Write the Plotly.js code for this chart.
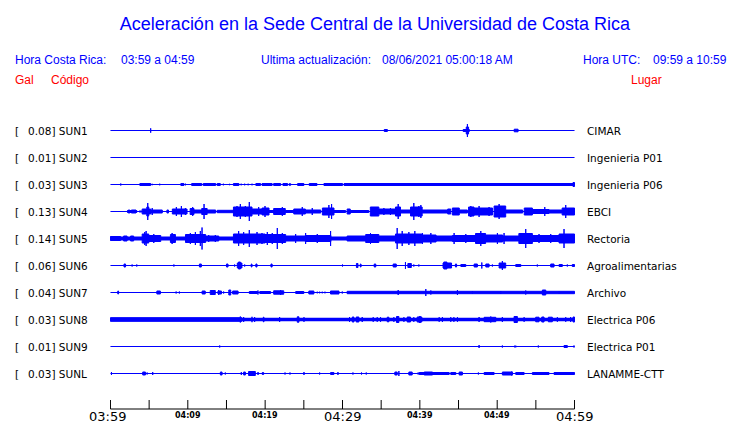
<!DOCTYPE html>
<html><head><meta charset="utf-8">
<script src="https://cdn.plot.ly/plotly-3.0.1.min.js"></script>
<style>html,body{margin:0;padding:0;background:#fff}#chart{width:740px;height:423px}</style>
</head><body><div id="chart"></div>
<script>
// ---------------- DATA ----------------
const durationMin = 60;
const codes  = ['SUN1','SUN2','SUN3','SUN4','SUN5','SUN6','SUN7','SUN8','SUN9','SUNL'];
const peaks  = ['0.08','0.01','0.03','0.13','0.14','0.06','0.04','0.03','0.01','0.03'];
const places = ['CIMAR','Ingenieria P01','Ingenieria P06','EBCI','Rectoria','Agroalimentarias','Archivo','Electrica P06','Electrica P01','LANAMME-CTT'];
// background (noise) half-amplitude of each record, relative units
const baseAmp = [0.5,0.5,0.5,0.5,2,0.5,0.5,1.8,0.5,0.5];
// envelope events: [start minute, end minute, half-amplitude]
const ev_SUN1 = [[5.2,5.2,2.7],[13.5,13.5,1],[35.4,35.8,1.5],[37.2,37.2,1],[39.3,39.3,1],[45.6,46.4,1.5],[46.0,46.3,4],[46.15,46.15,7],[51.45,51.45,1],[52.2,52.7,1.8],[56.4,56.4,1]];
const ev_SUN2 = [];
const ev_SUN3 = [[1.33,1.33,1.5],[3.14,3.14,1],[3.8,5.2,1.5],[5.4,5.4,1.2],[6.37,6.37,1.3],[9.1,9.5,1.5],[9.7,9.7,1.3],[10.5,11.8,1.5],[12.0,13.6,1.5],[13.8,14.2,1.5],[14.6,14.6,1.3],[15.4,15.4,1.2],[15.9,16.6,1.5],[16.9,16.9,1.3],[17.35,17.35,1.3],[17.8,17.8,1.3],[18.3,18.3,1.3],[18.8,19.4,1.5],[19.6,20.9,1.5],[21.1,22.0,1.5],[22.3,22.9,1.5],[23.1,23.3,1.3],[24.2,25.0,1.5],[25.7,26.7,1.5],[27.6,30.0,1.5],[30.2,60,1.5],[59.8,60,2.5]];
const ev_SUN4 = [[2.2,3.4,1.5],[2.3,2.5,2],[2.7,3.3,2],[3.7,4.1,1],[4.1,5.2,3],[4.7,4.95,5],[4.82,4.82,9],[5.2,6.7,2],[5.4,5.4,4],[7.3,7.5,2],[8.0,9.9,3],[8.52,8.52,5],[9.17,9.17,6],[9.69,9.69,4],[10.3,10.8,3.5],[10.63,10.63,5],[10.8,11.8,2],[11.8,12.5,3.5],[12.1,12.1,8],[12.5,13.6,2],[13.8,15.9,1.7],[15.9,18.3,5],[16.36,16.36,6],[16.79,16.79,8],[17.44,17.44,6],[17.95,17.95,10],[18.3,20.0,3],[19.16,19.16,5],[19.6,20.5,4],[19.98,19.98,6],[20.5,21.1,1.5],[21.1,22.6,3.5],[22.22,22.22,5],[22.6,23.7,1.5],[23.7,25.2,3],[24.8,24.8,5],[25.2,27.2,2],[26.09,26.09,4],[27.4,28.9,4],[28.24,28.24,7],[28.59,28.59,8],[28.9,30.4,1.5],[30.6,31.0,3],[31.0,33.4,1.5],[33.6,34.7,5],[34.7,36.85,3],[35.35,35.35,4],[36.2,36.2,4],[36.85,37.5,5],[37.2,37.2,8],[37.5,38.8,2],[38.8,40.3,5],[39.22,39.22,9],[39.87,39.87,6],[40.13,40.13,7],[40.3,43.6,2],[43.6,44.0,3],[44.2,45.1,4],[45.1,46.15,2],[46.3,47.0,5],[46.59,46.59,6],[47.0,49.4,4],[47.66,47.66,6],[48.95,48.95,5],[49.6,51.1,6],[50.25,50.25,8],[51.1,53.3,2],[53.5,54.55,4],[54.55,56.7,2.5],[56.15,56.15,5],[56.7,58.4,2],[58.4,59.1,4],[58.86,58.86,7],[59.1,60,4]];
const ev_SUN5 = [[0,1.3,2.5],[1.7,2.15,3],[2.6,3.0,3],[4.1,4.95,5],[4.43,4.43,7],[4.61,4.61,8],[4.95,6.5,3.5],[5.6,5.6,5],[6.24,6.24,4],[7.75,8.4,4.5],[7.97,7.97,6],[9.7,12.3,4.5],[10.33,10.33,6],[10.98,10.98,7],[11.62,11.62,8],[11.84,11.84,11.5],[12.3,14.0,3],[12.7,12.7,4],[13.56,13.56,4],[15.9,20.0,5],[16.57,16.57,8],[17.22,17.22,7],[17.95,17.95,9],[18.95,18.95,7],[19.59,19.59,6],[19.6,22.65,4.5],[20.28,20.28,7],[20.92,20.92,6],[21.57,21.57,11],[22.22,22.22,6],[22.65,25.2,3],[23.94,23.94,5],[25.23,25.23,6],[25.2,28.5,3.5],[26.74,26.74,5],[27.38,27.38,4],[28.46,28.46,8],[30.6,33.0,3],[33.0,34.7,4.5],[33.62,33.62,6],[34.7,36.85,3],[36.85,40.3,5],[37.07,37.07,11],[37.72,37.72,8],[38.58,38.58,7],[39.35,39.35,8],[39.9,42.1,4],[40.34,40.34,6],[41.42,41.42,6],[42.1,44.2,3],[44.43,44.43,6],[44.2,47.2,3.5],[45.94,45.94,5],[47.2,48.5,5.5],[47.88,47.88,8],[48.5,50.7,4],[50.03,50.03,6],[50.89,50.89,6],[50.7,52.8,3],[52.8,54.55,5.5],[53.69,53.69,10],[54.55,58.0,3.5],[55.41,55.41,5],[56.92,56.92,5],[58.0,60,5],[58.64,58.64,10]];
const ev_SUN6 = [[1.75,1.95,2],[2.8,2.8,1.5],[3.4,3.4,1.5],[4.8,4.8,1],[8.2,8.2,1.5],[11.5,11.75,2],[15.0,15.2,2],[16.05,16.05,1.5],[16.4,17.0,3],[16.55,16.8,4],[17.35,17.35,1.5],[18.2,18.3,2],[18.8,18.95,2],[20.75,20.9,2],[22.3,22.3,1],[30.0,30.0,1.5],[31.8,32.0,2.5],[32.3,32.4,2],[34.1,34.3,2],[36.55,36.95,2],[38.14,38.14,4],[38.45,38.9,2.5],[39.22,39.22,1.5],[39.87,39.87,1.5],[43.0,44.1,3],[43.1,43.5,4],[44.6,44.75,2],[45.3,45.94,1.5],[46.37,46.37,1],[47.02,47.44,2],[48.01,48.01,3.5],[48.53,48.95,2],[49.38,49.38,1.5],[50.25,51.1,3],[50.67,50.67,5],[52.4,53.05,1.5],[55.19,55.19,1.5],[56.92,57.35,2],[58.0,58.42,1.5],[59.07,59.07,1.5],[59.71,60,1.5]];
const ev_SUN7 = [[0.95,1.05,2],[2.03,2.03,1],[3.66,3.66,1],[5.59,5.59,1],[6.0,6.45,2],[6.67,6.67,1],[7.45,7.45,1],[8.49,8.49,1.5],[8.91,8.91,1.5],[9.34,9.34,1],[11.85,12.25,2],[12.9,13.55,2.5],[13.9,14.35,2],[13.99,13.99,3],[14.63,14.63,1.5],[15.3,15.55,3],[15.8,16.5,2],[17.95,18.3,1.5],[18.3,19.0,1.5],[19.07,19.07,2.5],[19.3,20.0,1.5],[19.59,19.59,2],[19.6,20.7,1.5],[21.1,22.4,2.2],[22.0,22.0,3],[22.73,22.73,1],[23.72,23.72,1],[23.95,25.0,1.5],[25.65,26.3,2],[26.74,26.74,1.3],[27.04,27.04,1.3],[27.38,27.38,1.3],[27.73,27.73,1.3],[28.45,29.55,2],[29.97,29.97,1.5],[30.6,60,1.7],[37.2,37.2,3],[40.77,40.77,4],[41.42,41.42,2.5],[44.86,44.86,3],[46.8,46.8,2],[50.46,50.46,2],[53.69,53.69,2.5],[55.84,56.28,3],[58.0,58.0,1.5]];
const ev_SUN8 = [[0,17,2.3],[16.79,16.79,3.5],[17.22,17.22,3],[18.3,18.3,3.2],[18.64,18.64,3],[19.76,19.85,2.8],[21.87,21.87,3],[24.15,24.37,3.2],[25.02,25.02,2.8],[30.91,30.91,3],[31.26,31.48,3],[31.77,32.12,3],[32.55,32.55,3],[33.97,33.97,2.8],[34.49,34.49,2.8],[34.92,34.92,2.8],[35.78,36.0,2.8],[36.64,36.64,2.8],[36.98,37.29,3.5],[37.94,37.94,2.8],[38.36,38.79,3],[39.22,39.22,2.8],[39.65,40.26,3],[39.91,40.1,3.5],[42.5,42.5,2.8],[42.92,42.92,3],[44.0,44.0,2.8],[44.4,44.4,2.8],[44.86,44.86,2.8],[47.66,47.66,3],[48.31,49.82,2.7],[49.17,49.17,3.5],[50.67,50.67,3],[52.18,52.61,3.5],[53.48,53.48,2.8],[54.98,55.41,2.8],[55.76,56.06,3],[56.61,57.13,2.8],[57.78,57.78,2.8],[58.86,58.86,2.8],[59.5,59.5,3],[59.8,60,3]];
const ev_SUN9 = [[14.12,14.12,1.5],[47.66,47.66,2],[50.67,50.67,1.5],[51.32,51.32,1],[52.18,52.48,1],[55.32,55.32,1.5],[58.64,59.07,1.5],[59.93,59.93,1.5]];
const ev_SUNL = [[0.13,0.13,2],[3.97,3.97,1],[4.17,4.52,2],[4.74,4.74,1.5],[5.46,5.46,2],[14.21,14.43,2],[14.85,14.85,1.5],[16.92,16.92,2],[17.22,17.44,2],[17.86,18.73,2.5],[19.08,19.08,2],[19.63,19.8,1.5],[22.57,22.57,1.5],[23.21,23.21,1.5],[24.5,24.5,1],[25.02,25.02,2],[27.04,27.04,1.5],[28.46,28.89,1.5],[29.41,29.41,2],[30.31,30.31,1],[31.35,31.35,1.5],[32.46,32.46,1.5],[33.07,33.07,1.5],[35.78,35.78,1],[36.77,37.07,2],[37.29,37.29,3],[37.94,37.94,1],[38.58,39.01,2],[39.78,39.78,1.5],[39.91,40.77,1.5],[40.56,41.64,2],[41.64,43.79,1.5],[44.0,44.65,1.5],[45.08,45.5,2],[46.59,46.59,1],[47.57,47.57,1.5],[48.31,49.6,1.5],[50.67,51.96,2],[51.89,51.89,2.5],[52.4,53.48,1.5],[54.55,56.7,1.5],[57.35,60,1.5],[58.42,58.42,2]];
const tickMinutes = [0,5,10,15,20,25,30,35,40,45,50,55,60];
const labelMinutes = [0,10,20,30,40,50,60];
const labelTexts = ['03:59','04:09','04:19','04:29','04:39','04:49','04:59'];
const labelMajor = [true,false,false,true,false,false,true];
const titleText = 'Aceleración en la Sede Central de la Universidad de Costa Rica';
const headerTexts = ['Hora Costa Rica:','03:59 a 04:59','Ultima actualización:','08/06/2021 05:00:18 AM','Hora UTC:','09:59 a 10:59'];
const columnTexts = ['Gal','Código','Lugar'];

// ---------------- LAYOUT / DRAWING ----------------
const events = [ev_SUN1,ev_SUN2,ev_SUN3,ev_SUN4,ev_SUN5,ev_SUN6,ev_SUN7,ev_SUN8,ev_SUN9,ev_SUNL];
const BLUE = '#0000ff', RED = '#ff0000';
const W=740, H=423, L=110, R=165, T=100, B=14;
const PW = W-L-R, PH = H-T-B;
const GAP = 27, FIRST_PX = 130.5;
const PADX = 0.06;
const rowY = i => (H-B) - (FIRST_PX + GAP*i);
const px2x = px => (px-L)/PW;
const py2y = py => (H-B-py)/PH;
const SH = -2.5; // compensate annotation inner padding

const traces = [];
codes.forEach((code,i)=>{
  const c = rowY(i);
  traces.push({type:'scatter',mode:'lines',x:[0,durationMin],y:[c,c],
    line:{color:BLUE,width:Math.max(1,2*baseAmp[i])},hoverinfo:'skip'});
  const xs=[], ys=[];
  events[i].forEach(([t0,t1,a])=>{
    const h = Math.max(a-0.5,0);
    xs.push(t0,t1,t1,t0,t0,null);
    ys.push(c-h,c-h,c+h,c+h,c-h,null);
  });
  if (xs.length) traces.push({type:'scatter',mode:'lines',x:xs,y:ys,fill:'toself',fillcolor:BLUE,
    line:{color:BLUE,width:1},connectgaps:false,hoverinfo:'skip'});
});

const ann = [];
const sansA = 'Liberation Sans, Arial, sans-serif';
const sansD = 'DejaVu Sans, sans-serif';
const hdrX = [15.6,121,261.6,382,583,653];
headerTexts.forEach((t,k)=>ann.push({text:t,xref:'paper',yref:'paper',x:px2x(hdrX[k]),y:py2y(60),xshift:SH,
  xanchor:'left',yanchor:'middle',showarrow:false,font:{family:sansA,size:12,color:BLUE}}));
const colX = [15.6,51,631];
columnTexts.forEach((t,k)=>ann.push({text:t,xref:'paper',yref:'paper',x:px2x(colX[k]),y:py2y(80),xshift:SH,
  xanchor:'left',yanchor:'middle',showarrow:false,font:{family:sansA,size:12,color:RED}}));
codes.forEach((code,i)=>{
  const c = rowY(i);
  ann.push({text:'[',xref:'paper',yref:'y',x:px2x(15),y:c,xshift:SH,xanchor:'left',yanchor:'middle',showarrow:false,
    font:{family:sansD,size:10.5,color:'#000'}});
  ann.push({text:peaks[i]+'] '+code,xref:'paper',yref:'y',x:px2x(28.5),y:c,xshift:SH,xanchor:'left',yanchor:'middle',showarrow:false,
    font:{family:sansD,size:10.5,color:'#000'}});
  ann.push({text:places[i],xref:'paper',yref:'y',x:px2x(587),y:c,xshift:SH,xanchor:'left',yanchor:'middle',showarrow:false,
    font:{family:sansD,size:10.5,color:'#000'}});
});
labelMinutes.forEach((m,k)=>{
  const big = labelMajor[k];
  ann.push({text:big?labelTexts[k]:'<b>'+labelTexts[k]+'</b>',xref:'x',yref:'paper',x:m,y:py2y(big?416.5:415),
    xshift:(k===0?-3:0),xanchor:'center',yanchor:'middle',showarrow:false,
    font:{family:sansD,size:big?13:8,color:'#000'}});
});

// time axis: base line and 5-minute ticks, positioned through the x scale
const shapes = [{type:'line',xref:'x',yref:'paper',x0:tickMinutes[0],x1:tickMinutes[tickMinutes.length-1],y0:0,y1:0,
  line:{color:'#000',width:1},layer:'above'}];
tickMinutes.forEach(m=>shapes.push({type:'line',xref:'x',yref:'paper',x0:m,x1:m,y0:0,y1:py2y(400),
  line:{color:'#000',width:1},layer:'above'}));

const layout = {
  width:W,height:H,margin:{l:L,r:R,t:T,b:B,pad:0},
  paper_bgcolor:'#fff',plot_bgcolor:'#fff',showlegend:false,hovermode:false,
  title:{text:titleText,xref:'container',yref:'container',x:375/W,y:1-23.5/H,xanchor:'center',yanchor:'middle',
    font:{family:sansA,size:18,color:BLUE}},
  xaxis:{range:[-PADX,durationMin+PADX],showgrid:false,zeroline:false,showline:false,ticks:'',
    tickmode:'array',tickvals:tickMinutes,showticklabels:false,fixedrange:true,automargin:false},
  yaxis:{range:[0,PH],visible:false,showgrid:false,zeroline:false,fixedrange:true,automargin:false},
  shapes:shapes,
  annotations:ann
};
Plotly.newPlot('chart',traces,layout,{staticPlot:true,displayModeBar:false});
</script></body></html>
